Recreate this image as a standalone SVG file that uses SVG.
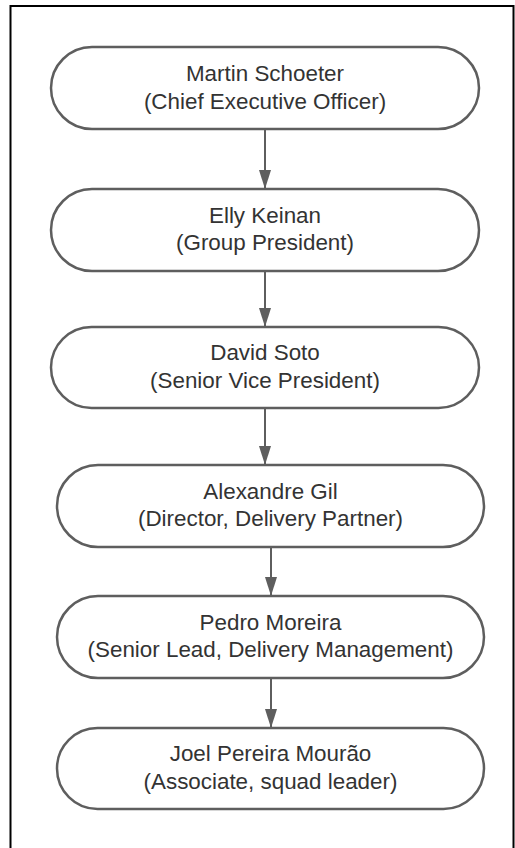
<svg xmlns="http://www.w3.org/2000/svg" width="515" height="848" viewBox="0 0 515 848">
<style>
.node{fill:#ffffff;stroke:#5e5e5e;stroke-width:2.5}
.t{font-family:"Liberation Sans",Arial,sans-serif;font-size:22.4px;fill:#333333;text-anchor:middle}
.c{stroke:#5e5e5e;stroke-width:2;fill:none}
</style>
<defs>
<marker id="ah" viewBox="0 0 19 12" refX="19" refY="6" markerWidth="19" markerHeight="12" markerUnits="userSpaceOnUse" orient="auto">
<path d="M0,0 L19,6 L0,12 z" fill="#5e5e5e"/>
</marker>
</defs>
<rect x="0" y="0" width="515" height="848" fill="#ffffff"/>
<rect x="10.5" y="6" width="503" height="860" fill="none" stroke="#000000" stroke-width="2"/>
<g id="connectors">
<line class="c" x1="265" y1="129" x2="265" y2="189" marker-end="url(#ah)"/>
<line class="c" x1="265" y1="271" x2="265" y2="327" marker-end="url(#ah)"/>
<line class="c" x1="265" y1="408" x2="265" y2="465" marker-end="url(#ah)"/>
<line class="c" x1="271" y1="547" x2="271" y2="596" marker-end="url(#ah)"/>
<line class="c" x1="271" y1="678" x2="271" y2="728" marker-end="url(#ah)"/>
</g>
<g id="n1">
<rect class="node" x="51" y="47" width="428" height="82" rx="41"/>
<text class="t" x="265" y="80.5">Martin Schoeter</text>
<text class="t" x="265" y="108.5">(Chief Executive Officer)</text>
</g>
<g id="n2">
<rect class="node" x="51" y="189" width="428" height="82" rx="41"/>
<text class="t" x="265" y="222.5">Elly Keinan</text>
<text class="t" x="265" y="250">(Group President)</text>
</g>
<g id="n3">
<rect class="node" x="51" y="327" width="428" height="81" rx="40.5"/>
<text class="t" x="265" y="360">David Soto</text>
<text class="t" x="265" y="387.5">(Senior Vice President)</text>
</g>
<g id="n4">
<rect class="node" x="57" y="465" width="427" height="82" rx="41"/>
<text class="t" x="270.5" y="498.5">Alexandre Gil</text>
<text class="t" x="270.5" y="526">(Director, Delivery Partner)</text>
</g>
<g id="n5">
<rect class="node" x="57" y="596" width="427" height="82" rx="41"/>
<text class="t" x="270.5" y="629.5">Pedro Moreira</text>
<text class="t" x="270.5" y="657">(Senior Lead, Delivery Management)</text>
</g>
<g id="n6">
<rect class="node" x="57" y="728" width="427" height="81" rx="40.5"/>
<text class="t" x="270.5" y="761">Joel Pereira Mourão</text>
<text class="t" x="270.5" y="788.5">(Associate, squad leader)</text>
</g>
</svg>
